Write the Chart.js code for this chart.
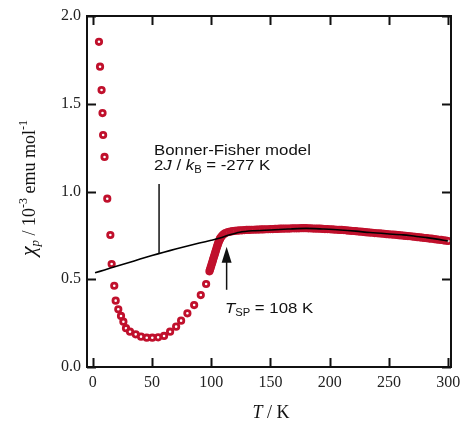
<!DOCTYPE html>
<html>
<head>
<meta charset="utf-8">
<title>Magnetic susceptibility vs temperature</title>
<script src="https://cdn.jsdelivr.net/npm/chart.js@4.4.1/dist/chart.umd.min.js"></script>
<style>
    html, body { margin: 0; padding: 0; background: #ffffff; }
    #wrap { width: 461px; height: 426px; position: relative; }
</style>
</head>
<body>
<div id="wrap"><canvas id="chi-chart" width="461" height="426"></canvas></div>
<script>
// Measured susceptibility (red circles)
const measuredT = [
    5.3, 6.2, 7.5, 8.3, 8.8, 10.0, 12.3, 14.9, 16.0, 18.2, 19.4, 21.6, 23.9, 25.9, 28.1,
    31.5, 36.3, 40.8, 45.6, 50.3, 55.2, 60.2, 65.3, 70.4, 74.6, 79.9, 85.6, 91.2, 95.7,
    98.5, 99, 99.5, 100, 100.5, 101, 101.5, 102, 102.5, 103, 103.5, 104, 104.5, 105,
    105.5, 106, 106.5, 107, 107.5, 108, 109, 110, 111, 112, 114, 116, 118,
    120, 122, 124, 126, 128, 130, 132, 134, 136, 138, 140, 142, 144, 146, 148,
    150, 152, 154, 156, 158, 160, 162, 164, 166, 168, 170, 172, 174, 176, 178,
    180, 182, 184, 186, 188, 190, 192, 194, 196, 198, 200, 202, 204, 206, 208,
    210, 212, 214, 216, 218, 220, 222, 224, 226, 228, 230, 232, 234, 236, 238,
    240, 242, 244, 246, 248, 250, 252, 254, 256, 258, 260, 262, 264, 266, 268,
    270, 272, 274, 276, 278, 280, 282, 284, 286, 288, 290, 292, 294, 296, 298, 300
];
const measuredChi = [
    1.853, 1.711, 1.578, 1.447, 1.322, 1.197, 0.959, 0.752, 0.587, 0.463, 0.378, 0.329, 0.291, 0.258, 0.221,
    0.201, 0.186, 0.173, 0.167, 0.167, 0.169, 0.177, 0.201, 0.230, 0.264, 0.306, 0.353, 0.410, 0.473,
    0.545, 0.555, 0.566, 0.577, 0.588, 0.599, 0.610, 0.621, 0.632, 0.643, 0.654, 0.665, 0.676, 0.687,
    0.697, 0.707, 0.716, 0.724, 0.731, 0.737, 0.746, 0.753, 0.759, 0.763, 0.768, 0.771, 0.774,
    0.776, 0.777, 0.778, 0.779, 0.780, 0.781, 0.781, 0.782, 0.782, 0.783, 0.783, 0.784, 0.784, 0.785, 0.785,
    0.786, 0.786, 0.787, 0.787, 0.788, 0.788, 0.789, 0.789, 0.789, 0.790, 0.790, 0.790, 0.790, 0.791, 0.791,
    0.791, 0.790, 0.790, 0.789, 0.789, 0.788, 0.788, 0.787, 0.786, 0.786, 0.785, 0.784, 0.783, 0.782, 0.781,
    0.781, 0.780, 0.779, 0.777, 0.776, 0.775, 0.774, 0.772, 0.771, 0.770, 0.768, 0.767, 0.766, 0.765, 0.763,
    0.762, 0.761, 0.760, 0.759, 0.757, 0.756, 0.755, 0.754, 0.753, 0.751, 0.750, 0.749, 0.747, 0.746, 0.745,
    0.743, 0.742, 0.740, 0.739, 0.737, 0.735, 0.734, 0.732, 0.731, 0.729, 0.727, 0.725, 0.724, 0.722, 0.720, 0.718
];

// Bonner-Fisher model curve (black line)
const modelT = [2, 10, 20, 30, 40, 50, 60, 70, 80, 90, 100, 107.5, 115, 124, 135, 150, 165, 180,
    195, 209, 222, 234, 248, 262, 272, 282, 292, 300];
const modelChi = [0.537, 0.553, 0.574, 0.594, 0.615, 0.635, 0.654, 0.672, 0.689, 0.706, 0.722, 0.735,
    0.752, 0.768, 0.776, 0.781, 0.786, 0.790, 0.786, 0.781, 0.774, 0.766, 0.759, 0.753, 0.745, 0.737, 0.727, 0.718];

// Axis ticks
const xTicks = [0, 50, 100, 150, 200, 250, 300];
const yTicks = [0.0, 0.5, 1.0, 1.5, 2.0];
const yTickLabels = ['0.0', '0.5', '1.0', '1.5', '2.0'];

const RED = '#c0102c';
const SERIF = '"Liberation Serif", "Times New Roman", serif';
const SANS = '"Liberation Sans", Arial, sans-serif';

document.addEventListener('DOMContentLoaded', function() {
    initChiChart();
});

function toPoints(xs, ys) {
    return xs.map(function(x, i) { return { x: x, y: ys[i] }; });
}

// Draws a sequence of text runs [text, font, dy] left to right
function drawRuns(ctx, x, y, runs) {
    runs.forEach(function(r) {
        ctx.font = r[1];
        ctx.fillText(r[0], x, y + (r[2] || 0));
        x += ctx.measureText(r[0]).width;
    });
    return x;
}

function runsWidth(ctx, runs) {
    let w = 0;
    runs.forEach(function(r) {
        ctx.font = r[1];
        w += ctx.measureText(r[0]).width;
    });
    return w;
}

// Annotation text in the figure is a little wider than Arial, so stretch it
function drawWide(ctx, x, y, runs) {
    ctx.save();
    ctx.translate(x, y);
    ctx.scale(1.12, 1);
    drawRuns(ctx, 0, 0, runs);
    ctx.restore();
}

// Frame, inward ticks, titles and annotations
const decorations = {
    id: 'decorations',
    afterDraw: function(chart) {
        const ctx = chart.ctx;
        const a = chart.chartArea;
        const xs = chart.scales.x;
        const ys = chart.scales.y;
        ctx.save();
        ctx.strokeStyle = '#111';
        ctx.fillStyle = '#111';
        ctx.lineWidth = 2;
        ctx.strokeRect(a.left, a.top, a.right - a.left, a.bottom - a.top);

        ctx.beginPath();
        xTicks.forEach(function(v) {
            const px = Math.round(xs.getPixelForValue(v)) + 0.5;
            ctx.moveTo(px, a.bottom); ctx.lineTo(px, a.bottom - 9);
            ctx.moveTo(px, a.top); ctx.lineTo(px, a.top + 9);
        });
        yTicks.forEach(function(v) {
            const py = Math.round(ys.getPixelForValue(v)) + 0.5;
            ctx.moveTo(a.left, py); ctx.lineTo(a.left + 9, py);
            ctx.moveTo(a.right, py); ctx.lineTo(a.right - 9, py);
        });
        ctx.stroke();

        // x axis title: T / K
        ctx.textBaseline = 'alphabetic';
        const xRuns = [['T', 'italic 18px ' + SERIF], [' / K', '18px ' + SERIF]];
        const xc = (a.left + a.right) / 2;
        drawRuns(ctx, xc - runsWidth(ctx, xRuns) / 2 + 2, 418, xRuns);

        // y axis title: chi_p / 10^-3 emu mol^-1
        ctx.save();
        ctx.translate(35, 188);
        ctx.rotate(-Math.PI / 2);
        const yRuns = [
            ['\u03C7', 'italic 22px ' + SERIF],
            ['p', 'italic 13px ' + SERIF, 4],
            [' / 10', '18px ' + SERIF],
            ['-3', '12px ' + SERIF, -8],
            [' emu mol', '18px ' + SERIF],
            ['-1', '12px ' + SERIF, -8]
        ];
        drawRuns(ctx, -runsWidth(ctx, yRuns) / 2, 0, yRuns);
        ctx.restore();

        // Bonner-Fisher annotation
        drawWide(ctx, 154, 155, [['Bonner-Fisher model', '15px ' + SANS]]);
        drawWide(ctx, 154, 170, [
            ['2', '15px ' + SANS],
            ['J', 'italic 15px ' + SANS],
            [' / ', '15px ' + SANS],
            ['k', 'italic 15px ' + SANS],
            ['B', '10px ' + SANS, 3],
            [' = -277 K', '15px ' + SANS]
        ]);
        ctx.lineWidth = 1.5;
        const bx = xs.getPixelForValue(56);
        ctx.beginPath();
        ctx.moveTo(bx, 184);
        ctx.lineTo(bx, ys.getPixelForValue(0.648));
        ctx.stroke();

        // Spin-Peierls arrow
        const ax = xs.getPixelForValue(113);
        const tipY = ys.getPixelForValue(0.685);
        ctx.beginPath();
        ctx.moveTo(ax, tipY + 14);
        ctx.lineTo(ax, tipY + 43);
        ctx.stroke();
        ctx.beginPath();
        ctx.moveTo(ax, tipY);
        ctx.lineTo(ax - 5, tipY + 16);
        ctx.lineTo(ax + 5, tipY + 16);
        ctx.closePath();
        ctx.fill();
        drawWide(ctx, 225, 313, [
            ['T', 'italic 15px ' + SANS],
            ['SP', '10px ' + SANS, 3],
            [' = 108 K', '15px ' + SANS]
        ]);
        ctx.restore();
    }
};

function initChiChart() {
    const ctx = document.getElementById('chi-chart');
    if (!ctx) return;

    new Chart(ctx, {
        type: 'scatter',
        data: {
            datasets: [
                {
                    label: 'Bonner-Fisher model',
                    data: toPoints(modelT, modelChi),
                    showLine: true,
                    borderColor: '#000',
                    borderWidth: 1.6,
                    tension: 0.3,
                    pointRadius: 0
                },
                {
                    label: 'Measured',
                    data: toPoints(measuredT, measuredChi),
                    showLine: false,
                    pointRadius: 2.7,
                    pointBorderWidth: 2.8,
                    pointBorderColor: RED,
                    pointBackgroundColor: '#ffffff'
                }
            ]
        },
        options: {
            responsive: false,
            animation: false,
            events: [],
            layout: { padding: { left: 0, top: 16, right: 10, bottom: 0 } },
            plugins: {
                legend: { display: false },
                tooltip: { enabled: false }
            },
            scales: {
                x: {
                    type: 'linear',
                    min: -4.8,
                    max: 302.3,
                    afterBuildTicks: function(scale) {
                        scale.ticks = xTicks.map(function(v) { return { value: v }; });
                    },
                    afterFit: function(scale) {
                        scale.height = 59;
                        scale.paddingLeft = 0;
                        scale.paddingRight = 0;
                    },
                    grid: { display: false, drawTicks: false },
                    border: { display: false },
                    ticks: {
                        padding: 6,
                        color: '#222',
                        font: { family: SERIF, size: 16 },
                        maxRotation: 0
                    }
                },
                y: {
                    type: 'linear',
                    min: 0,
                    max: 2,
                    afterBuildTicks: function(scale) {
                        scale.ticks = yTicks.map(function(v) { return { value: v }; });
                    },
                    afterFit: function(scale) {
                        scale.width = 87;
                        scale.paddingTop = 0;
                        scale.paddingBottom = 0;
                    },
                    grid: { display: false, drawTicks: false },
                    border: { display: false },
                    ticks: {
                        padding: 6,
                        color: '#222',
                        font: { family: SERIF, size: 16 },
                        callback: function(value) {
                            const i = yTicks.indexOf(value);
                            return i >= 0 ? yTickLabels[i] : '';
                        }
                    }
                }
            }
        },
        plugins: [decorations]
    });
}
</script>
</body>
</html>
